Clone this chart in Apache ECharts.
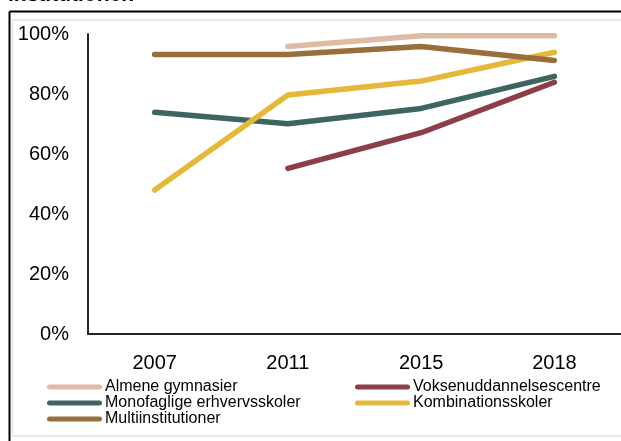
<!DOCTYPE html>
<html lang="da">
<head>
    <meta charset="UTF-8">
    <title>Institutioner</title>
    <script src="https://cdn.jsdelivr.net/npm/echarts@6/dist/echarts.min.js"></script>
    <style>
        body {
            padding: 0;
            margin: 0;
            background: #fff;
        }
        #ec {
            width: 621px;
            height: 441px;
        }
    </style>
</head>
<body>
<div id="ec"></div>
<script>
    // data (percent)
    let years = ['2007', '2011', '2015', '2018'];
    let almene = [null, 95.8, 99.4, 99.4];
    let voksen = [null, 55.2, 67.1, 83.9];
    let monofaglige = [73.9, 70.1, 75.2, 85.9];
    let kombination = [48.0, 79.7, 84.3, 93.9];
    let multi = [93.2, 93.2, 95.8, 91.2];

    let names = ['Almene gymnasier', 'Voksenuddannelsescentre', 'Monofaglige erhvervsskoler', 'Kombinationsskoler', 'Multiinstitutioner'];
    let colors = ['#e0bba4', '#8c3f46', '#3f6561', '#e5b83a', '#9a6e3a'];
    let values = [almene, voksen, monofaglige, kombination, multi];

    let ec = echarts.init(document.getElementById('ec'));

    // rounded bar used as legend swatch
    let swatch = 'path://M2.5,0 L52.5,0 A2.5,2.5 0 0 1 52.5,5 L2.5,5 A2.5,2.5 0 0 1 2.5,0 Z';

    let legendText = {
        fontFamily: 'Liberation Sans, Arial, sans-serif',
        fontSize: 16,
        color: '#000',
        lineHeight: 16,
        padding: [0, 0, 0, -2]
    };

    let option = {
        backgroundColor: '#fff',
        animation: false,
        textStyle: {fontFamily: 'Liberation Sans, Arial, sans-serif'},
        graphic: [
            // frame lines round the chart
            {type: 'line', shape: {x1: 9.5, y1: 11.5, x2: 621, y2: 11.5}, style: {stroke: '#000', lineWidth: 2}},
            {type: 'line', shape: {x1: 9.5, y1: 11.5, x2: 9.5, y2: 441}, style: {stroke: '#000', lineWidth: 2}},
            {type: 'line', shape: {x1: 12.5, y1: 20, x2: 621, y2: 20}, style: {stroke: '#e2e2e2', lineWidth: 1.5}},
            {type: 'line', shape: {x1: 12.5, y1: 20, x2: 12.5, y2: 436}, style: {stroke: '#e2e2e2', lineWidth: 1.5}},
            {type: 'line', shape: {x1: 12.5, y1: 436, x2: 621, y2: 436}, style: {stroke: '#e2e2e2', lineWidth: 1.5}},
            // cut-off title above the frame
            {
                type: 'text', x: 8, y: 6,
                style: {
                    text: 'institutionen',
                    fontFamily: 'Liberation Sans, Arial, sans-serif',
                    fontWeight: 'bold',
                    fontSize: 21,
                    fill: '#000',
                    verticalAlign: 'bottom'
                }
            }
        ],
        legend: [
            {
                orient: 'vertical',
                left: 42,
                top: 374,
                icon: swatch,
                itemWidth: 55,
                itemHeight: 5,
                itemGap: 0,
                textStyle: legendText,
                data: [names[0], names[2], names[4]]
            },
            {
                orient: 'vertical',
                left: 350,
                top: 374,
                icon: swatch,
                itemWidth: 55,
                itemHeight: 5,
                itemGap: 0,
                textStyle: legendText,
                data: [names[1], names[3]]
            }
        ],
        grid: {
            left: 88,
            top: 34,
            width: 540,
            height: 300,
            containLabel: false
        },
        xAxis: {
            type: 'category',
            data: years,
            boundaryGap: true,
            axisLine: {lineStyle: {color: '#262626', width: 2}},
            axisTick: {show: false},
            axisLabel: {color: '#000', fontSize: 20, margin: 19}
        },
        yAxis: {
            type: 'value',
            min: 0,
            max: 100,
            interval: 20,
            axisLine: {show: true, lineStyle: {color: '#262626', width: 2}},
            axisTick: {show: false},
            splitLine: {show: false},
            axisLabel: {color: '#000', fontSize: 20, margin: 19, formatter: '{value}%'}
        },
        series: []
    };

    names.forEach((n, i) => {
        option.series.push({
            name: n,
            type: 'line',
            data: values[i],
            symbol: 'none',
            color: colors[i],
            lineStyle: {width: 5.5, cap: 'round', join: 'round'}
        });
    });

    ec.setOption(option);
</script>
</body>
</html>
